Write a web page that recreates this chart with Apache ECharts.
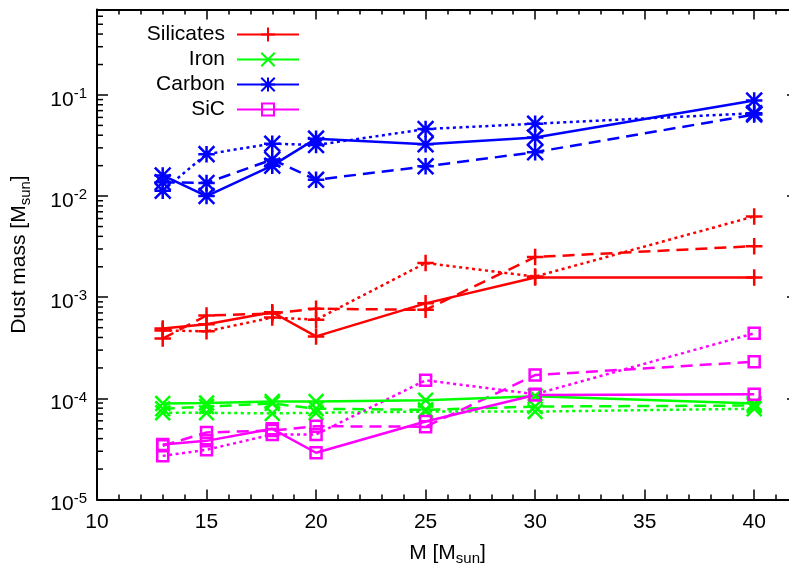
<!DOCTYPE html>
<html>
<head>
<meta charset="utf-8">
<script src="https://cdn.jsdelivr.net/npm/echarts@6/dist/echarts.min.js"></script>
<style>
html,body{margin:0;padding:0;background:#fff;}
#chart{width:789px;height:579px;}
</style>
</head>
<body>
<div id="chart"></div>
<script>
// ---- data ----
const masses = [13, 15, 18, 20, 25, 30, 40];

const silicatesSolid  = [4.9e-4, 5.4e-4, 7.1e-4, 4.1e-4, 8.7e-4, 1.57e-3, 1.57e-3];
const silicatesDashed = [3.9e-4, 6.6e-4, 6.9e-4, 7.7e-4, 7.5e-4, 2.5e-3, 3.2e-3];
const silicatesDotted = [4.7e-4, 4.6e-4, 6.3e-4, 6.0e-4, 2.18e-3, 1.6e-3, 6.3e-3];

const ironSolid  = [8.9e-5, 9.0e-5, 9.3e-5, 9.3e-5, 9.6e-5, 1.05e-4, 8.9e-5];
const ironDashed = [7.9e-5, 8.3e-5, 8.9e-5, 7.9e-5, 7.7e-5, 8.3e-5, 8.5e-5];
const ironDotted = [7.2e-5, 7.2e-5, 7.1e-5, 7.2e-5, 7.4e-5, 7.4e-5, 7.9e-5];

const carbonSolid  = [0.016, 0.010, 0.020, 0.037, 0.0325, 0.038, 0.088];
const carbonDashed = [0.0137, 0.0135, 0.023, 0.0145, 0.0197, 0.0272, 0.064];
const carbonDotted = [0.0113, 0.026, 0.033, 0.032, 0.046, 0.052, 0.066];

const sicSolid  = [3.5e-5, 3.8e-5, 5.0e-5, 2.9e-5, 5.9e-5, 1.08e-4, 1.1e-4];
const sicDashed = [3.4e-5, 4.6e-5, 4.8e-5, 5.3e-5, 5.25e-5, 1.7e-4, 2.3e-4];
const sicDotted = [2.7e-5, 3.1e-5, 4.4e-5, 4.4e-5, 1.51e-4, 1.1e-4, 4.4e-4];

const xTicks = [10, 15, 20, 25, 30, 35, 40];
const yMinorMultipliers = [2, 3, 4, 5, 6, 7, 8, 9];

// ---- styles ----
const FONT = 'Liberation Sans, Arial, sans-serif';
const species = [
  { name: 'Silicates', color: '#ff0000', symbol: 'path://M0,5L10,5M5,0L5,10', size: 14,
    sets: [silicatesSolid, silicatesDashed, silicatesDotted] },
  { name: 'Iron', color: '#00ff00', symbol: 'path://M0,0L10,10M10,0L0,10', size: 13,
    sets: [ironSolid, ironDashed, ironDotted] },
  { name: 'Carbon', color: '#0000ff', symbol: 'path://M0,5L10,5M5,0L5,10M0,0L10,10M10,0L0,10', size: 14,
    sets: [carbonSolid, carbonDashed, carbonDotted] },
  { name: 'SiC', color: '#ff00ff', symbol: 'path://M0,0L10,0M10,0L10,10M10,10L0,10M0,10L0,0', size: 11,
    sets: [sicSolid, sicDashed, sicDotted] }
];
const dashTypes = ['solid', [12, 7], [3, 3.5]];

const series = [];
species.forEach(sp => {
  sp.sets.forEach((vals, k) => {
    series.push({
      name: sp.name,
      type: 'line',
      xAxisIndex: 0,
      yAxisIndex: 0,
      data: masses.map((m, i) => [m, vals[i]]),
      symbol: sp.symbol,
      symbolSize: sp.size,
      showAllSymbol: true,
      z: 10 - k,
      lineStyle: { color: sp.color, width: 2.5, type: dashTypes[k] },
      itemStyle: { color: sp.color, borderColor: sp.color, borderWidth: 2.5, borderCap: 'square' },
      emphasis: { disabled: true },
      animation: false
    });
  });
});

const legends = species.map((sp, i) => ({
  data: [sp.name],
  orient: 'vertical',
  align: 'right',
  right: 789 - 300,
  top: 24 + i * 25,
  itemWidth: 62,
  itemHeight: 15,
  padding: 0,
  selectedMode: false,
  textStyle: { fontFamily: FONT, fontSize: 21, color: '#000', padding: [0, 7, 0, 0] }
}));

function yLabel(v) {
  const e = Math.round(Math.log10(v));
  if (Math.abs(v - Math.pow(10, e)) / v > 1e-6) return '';
  return '10{sup|' + e + '}';
}

const option = {
  backgroundColor: '#fff',
  animation: false,
  grid: { left: 97, top: 9.5, width: 701, height: 490, containLabel: false, outerBoundsMode: 'none' },
  legend: legends,
  xAxis: [
    { type: 'value', min: 10, max: 42, interval: 5, position: 'bottom',
      axisLine: { lineStyle: { color: '#000', width: 2 } },
      axisTick: { inside: true, length: 10, lineStyle: { color: '#000', width: 1.5 } },
      splitLine: { show: false },
      axisLabel: { fontFamily: FONT, fontSize: 21, color: '#000', margin: 12,
        formatter: v => (xTicks.indexOf(v) >= 0 ? String(v) : '') },
      name: 'M [M{sub|sun}]', nameLocation: 'middle', nameGap: 40,
      nameTextStyle: { fontFamily: FONT, fontSize: 21, color: '#000',
        rich: { sub: { fontFamily: FONT, fontSize: 15, color: '#000', padding: [12, 0, 0, 0] } } } },
    { type: 'value', min: 10, max: 42, interval: 1, position: 'bottom',
      axisLine: { show: false },
      axisTick: { inside: true, length: 5, lineStyle: { color: '#000', width: 1.5 } },
      axisLabel: { show: false }, splitLine: { show: false } },
    { type: 'value', min: 10, max: 42, interval: 5, position: 'top',
      axisLine: { lineStyle: { color: '#000', width: 2 } },
      axisTick: { inside: true, length: 10, lineStyle: { color: '#000', width: 1.5 } },
      axisLabel: { show: false }, splitLine: { show: false } },
    { type: 'value', min: 10, max: 42, interval: 1, position: 'top',
      axisLine: { show: false },
      axisTick: { inside: true, length: 5, lineStyle: { color: '#000', width: 1.5 } },
      axisLabel: { show: false }, splitLine: { show: false } }
  ],
  yAxis: [
    { type: 'log', logBase: 10, min: 1e-5, max: 0.7, position: 'left',
      axisLine: { lineStyle: { color: '#000', width: 2 } },
      axisTick: { inside: true, length: 11, lineStyle: { color: '#000', width: 1.5 } },
      splitLine: { show: false },
      minorTick: { show: false },
      axisLabel: { fontFamily: FONT, fontSize: 21, color: '#000', margin: 10, formatter: yLabel,
        padding: [10, 0, 0, 0],
        rich: { sup: { fontFamily: FONT, fontSize: 15, color: '#000', padding: [0, 0, 12, 0] } } },
      name: 'Dust mass [M{sub|sun}]', nameLocation: 'middle', nameGap: 64, nameRotate: 90,
      nameTextStyle: { fontFamily: FONT, fontSize: 21, color: '#000',
        rich: { sub: { fontFamily: FONT, fontSize: 15, color: '#000', padding: [12, 0, 0, 0] } } } },
    { type: 'log', logBase: 10, min: 1e-5, max: 0.7, position: 'right',
      axisLine: { lineStyle: { color: '#000', width: 2 } },
      axisTick: { inside: true, length: 11, lineStyle: { color: '#000', width: 1.5 } },
      axisLabel: { show: false }, splitLine: { show: false } }
  ],
  series: series
};

const chart = echarts.init(document.getElementById('chart'), null, { renderer: 'canvas' });
chart.setOption(option);

// minor ticks for log axis (2..9 x 10^n), positioned through the axis scale
const minorGraphics = [];
const lx = chart.convertToPixel({ xAxisIndex: 0 }, 10);
const rx = chart.convertToPixel({ xAxisIndex: 0 }, 42);
for (let e = -5; e <= -1; e++) {
  yMinorMultipliers.forEach(m => {
    const v = m * Math.pow(10, e);
    if (v > 0.7) return;
    const py = chart.convertToPixel({ yAxisIndex: 0 }, v);
    minorGraphics.push({ type: 'line', silent: true, z: 5,
      shape: { x1: lx, y1: py, x2: lx + 6, y2: py }, style: { stroke: '#000', lineWidth: 1.5 } });
    minorGraphics.push({ type: 'line', silent: true, z: 5,
      shape: { x1: rx, y1: py, x2: rx - 6, y2: py }, style: { stroke: '#000', lineWidth: 1.5 } });
  });
}
chart.setOption({ graphic: minorGraphics });
</script>
</body>
</html>
